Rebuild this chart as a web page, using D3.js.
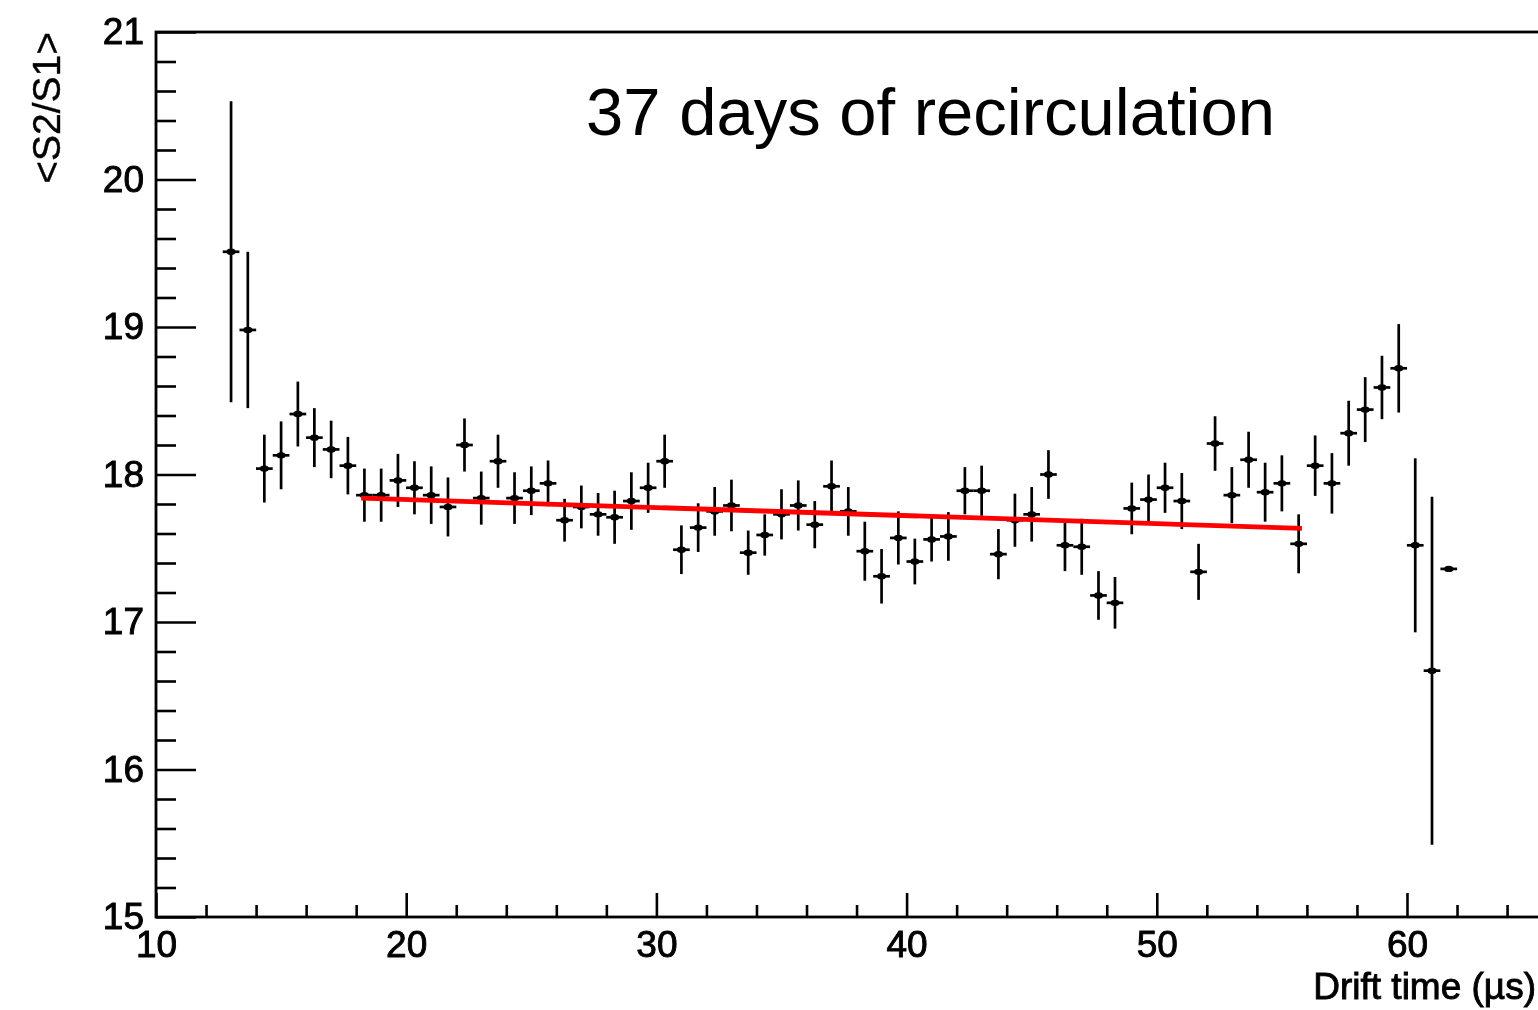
<!DOCTYPE html>
<html>
<head>
<meta charset="utf-8">
<script src="https://cdn.jsdelivr.net/npm/d3@7"></script>
<style>
  html, body { margin: 0; padding: 0; background: #fff; overflow: hidden; }
  svg text { font-family: "Liberation Sans", Arial, Helvetica, sans-serif; }
</style>
</head>
<body>
<svg id="chart" width="1538" height="1010"></svg>
<script>
// Mean S2/S1 per drift-time bin (bin width 2/3 µs)
const driftTime = [
  13.00, 13.67, 14.33, 15.00, 15.67, 16.33, 17.00, 17.67, 18.33, 19.00,
  19.67, 20.33, 21.00, 21.67, 22.33, 23.00, 23.67, 24.33, 25.00, 25.67,
  26.33, 27.00, 27.67, 28.33, 29.00, 29.67, 30.33, 31.00, 31.67, 32.33,
  33.00, 33.67, 34.33, 35.00, 35.67, 36.33, 37.00, 37.67, 38.33, 39.00,
  39.67, 40.33, 41.00, 41.67, 42.33, 43.00, 43.67, 44.33, 45.00, 45.67,
  46.33, 47.00, 47.67, 48.33, 49.00, 49.67, 50.33, 51.00, 51.67, 52.33,
  53.00, 53.67, 54.33, 55.00, 55.67, 56.33, 57.00, 57.67, 58.33, 59.00,
  59.67, 60.33, 61.00, 61.67
];
const ratio = [
  19.51, 18.98, 18.04, 18.13, 18.41, 18.25, 18.17, 18.06, 17.86, 17.86,
  17.96, 17.91, 17.86, 17.78, 18.20, 17.84, 18.09, 17.84, 17.89, 17.94,
  17.69, 17.78, 17.73, 17.71, 17.82, 17.91, 18.09, 17.49, 17.64, 17.75,
  17.79, 17.47, 17.59, 17.73, 17.79, 17.66, 17.92, 17.75, 17.48, 17.31,
  17.57, 17.41, 17.56, 17.58, 17.89, 17.89, 17.46, 17.69, 17.73, 18.00,
  17.52, 17.51, 17.18, 17.13, 17.77, 17.83, 17.91, 17.82, 17.34, 18.21,
  17.86, 18.10, 17.88, 17.94, 17.53, 18.06, 17.94, 18.28, 18.44, 18.59,
  18.72, 17.52, 16.67, 17.36
];
const ratioErr = [
  1.02, 0.53, 0.23, 0.23, 0.22, 0.20, 0.195, 0.195, 0.18, 0.18,
  0.18, 0.18, 0.195, 0.20, 0.18, 0.18, 0.18, 0.175, 0.165, 0.155,
  0.145, 0.145, 0.145, 0.18, 0.195, 0.17, 0.18, 0.165, 0.165, 0.165,
  0.175, 0.15, 0.14, 0.17, 0.17, 0.16, 0.175, 0.165, 0.20, 0.185,
  0.18, 0.155, 0.15, 0.165, 0.16, 0.17, 0.17, 0.18, 0.185, 0.165,
  0.175, 0.19, 0.165, 0.175, 0.175, 0.17, 0.17, 0.19, 0.19, 0.185,
  0.19, 0.19, 0.20, 0.19, 0.20, 0.205, 0.205, 0.22, 0.22, 0.215,
  0.30, 0.59, 1.18, 0.0
];
const binHalfWidth = 1 / 3;

// Linear fit over the flat region
const fitTime = [18.2, 55.8];
const fitValue = [17.84, 17.635];

const xMajorTicks = [10, 20, 30, 40, 50, 60];
const xMinorTicks = [12, 14, 16, 18, 22, 24, 26, 28, 32, 34, 36, 38, 42, 44, 46, 48, 52, 54, 56, 58, 62, 64];
const yMajorTicks = [15, 16, 17, 18, 19, 20, 21];
const yMinorTicks = [15.2, 15.4, 15.6, 15.8, 16.2, 16.4, 16.6, 16.8, 17.2, 17.4, 17.6, 17.8,
                     18.2, 18.4, 18.6, 18.8, 19.2, 19.4, 19.6, 19.8, 20.2, 20.4, 20.6, 20.8];

const titleText = "37 days of recirculation";
const xTitle = "Drift time (\u00b5s)";
const yTitle = "<S2/S1>";

const svg = d3.select("#chart");

// slight softening of the histogram panel
svg.append("defs").append("filter").attr("id", "soft")
  .attr("x", "-5%").attr("y", "-5%").attr("width", "110%").attr("height", "110%")
  .append("feGaussianBlur").attr("stdDeviation", 0.6);

const x = d3.scaleLinear().domain([10, 66]).range([156, 1557.1]);
const y = d3.scaleLinear().domain([15, 21]).range([917, 32]);

const plot = svg.append("g").attr("filter", "url(#soft)");

// frame (right side runs past the canvas edge)
plot.append("rect")
  .attr("x", x(10)).attr("y", y(21))
  .attr("width", x(66) - x(10)).attr("height", y(15) - y(21))
  .attr("fill", "none").attr("stroke", "#000").attr("stroke-width", 2.8);

// x axis: ticks pointing up into the frame
const xAxisG = plot.append("g").attr("transform", `translate(0,${y(15)})`);
xAxisG.call(d3.axisBottom(x).tickValues(xMajorTicks).tickSize(-24).tickPadding(14).tickFormat(d3.format("d")));
const xMinorG = plot.append("g").attr("transform", `translate(0,${y(15)})`);
xMinorG.call(d3.axisBottom(x).tickValues(xMinorTicks).tickSize(-12).tickFormat(""));

// y axis: ticks pointing right into the frame
const yAxisG = plot.append("g").attr("transform", `translate(${x(10)},0)`);
yAxisG.call(d3.axisLeft(y).tickValues(yMajorTicks).tickSize(-40).tickPadding(12).tickFormat(d3.format("d")));
const yMinorG = plot.append("g").attr("transform", `translate(${x(10)},0)`);
yMinorG.call(d3.axisLeft(y).tickValues(yMinorTicks).tickSize(-20).tickFormat(""));

[xAxisG, xMinorG, yAxisG, yMinorG].forEach(g => {
  g.select(".domain").remove();
  g.selectAll(".tick line").attr("stroke", "#000").attr("stroke-width", 2.6);
  g.selectAll(".tick text").attr("fill", "#000").attr("font-size", 37)
    .attr("stroke", "#000").attr("stroke-width", 0.9);
});

// axis titles
plot.append("text")
  .attr("x", 1536).attr("y", 999)
  .attr("text-anchor", "end").attr("font-size", 37)
  .attr("fill", "#000").attr("stroke", "#000").attr("stroke-width", 0.9)
  .text(xTitle);

plot.append("text")
  .attr("transform", `translate(60,${y(21)}) rotate(-90)`)
  .attr("text-anchor", "end").attr("font-size", 39)
  .attr("fill", "#000").attr("stroke", "#000").attr("stroke-width", 0.4)
  .text(yTitle);

// data points with error bars
const pts = driftTime.map((t, i) => ({ t, v: ratio[i], e: ratioErr[i] }));
const pg = plot.append("g").attr("stroke", "#000").attr("stroke-width", 2.7);
pg.selectAll("line.ey").data(pts).join("line").attr("class", "ey")
  .attr("x1", d => x(d.t)).attr("x2", d => x(d.t))
  .attr("y1", d => y(d.v + d.e)).attr("y2", d => y(d.v - d.e));
pg.selectAll("line.ex").data(pts).join("line").attr("class", "ex")
  .attr("x1", d => x(d.t - binHalfWidth)).attr("x2", d => x(d.t + binHalfWidth))
  .attr("y1", d => y(d.v)).attr("y2", d => y(d.v));
plot.append("g").selectAll("ellipse").data(pts).join("ellipse")
  .attr("cx", d => x(d.t)).attr("cy", d => y(d.v))
  .attr("rx", 4.5).attr("ry", 3.2).attr("fill", "#000");

// fit line
const fitPts = fitTime.map((t, i) => [t, fitValue[i]]);
plot.append("path")
  .datum(fitPts)
  .attr("d", d3.line().x(d => x(d[0])).y(d => y(d[1])))
  .attr("fill", "none").attr("stroke", "#ff0000").attr("stroke-width", 4.8);

// title
svg.append("text")
  .attr("x", 586).attr("y", 135)
  .attr("font-size", 67).attr("fill", "#000")
  .text(titleText);
</script>
</body>
</html>
